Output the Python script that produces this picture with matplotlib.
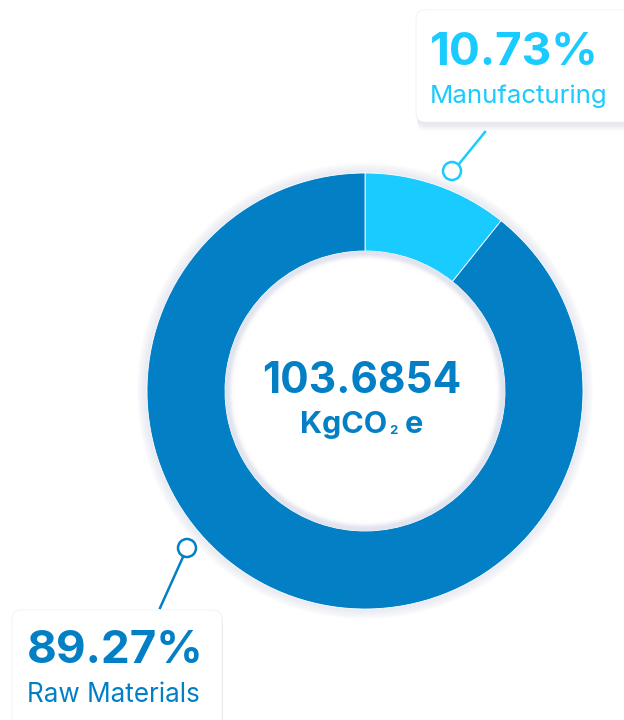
import matplotlib.pyplot as plt
from matplotlib.patches import Circle, FancyBboxPatch

plt.rcParams['font.family'] = ['Inter', 'DejaVu Sans']

# dados do grafico
labels = ['Manufacturing', 'Raw Materials']
values = [10.73, 89.27]
colors = ['#1acbff', '#0380c5']
total_txt = '103.6854'
unit_parts = ['KgCO', '2', 'e']

W, H = 624, 720
cx, cy = 365, 329
r_out, r_in = 218, 140

fig = plt.figure(figsize=(W / 100, H / 100), dpi=100)
ax = fig.add_axes([0, 0, 1, 1])

# sombra externa suave
for k in range(10, 0, -1):
    ax.add_patch(Circle((cx, cy), r_out + k, color='#dfe1ee', alpha=0.08, lw=0, zorder=0))

ax.pie(values, colors=colors, startangle=90, counterclock=False,
       center=(cx, cy), radius=r_out,
       wedgeprops=dict(width=r_out - r_in, edgecolor='white', linewidth=0.6))

# anel interno lavanda e circulo branco
ax.add_patch(Circle((cx, cy), r_in, color='#e1e3ef', lw=0, zorder=3))
for k, a in zip(range(8, 0, -1), [0.1, 0.2, 0.3, 0.45, 0.6, 0.75, 0.9, 1.0]):
    ax.add_patch(Circle((cx, cy), r_in - 11 + k, color='white', alpha=a, lw=0, zorder=3))
ax.add_patch(Circle((cx, cy), r_in - 11, color='white', lw=0, zorder=3))

ax.text(cx - 3, 327, total_txt, color=colors[1], fontsize=30.5, fontweight='bold',
        ha='center', va='baseline', zorder=5)
# KgCO2e com subscrito pequeno
ax.text(387, 287, unit_parts[0], color=colors[1], fontsize=22, fontweight='bold',
        ha='right', va='baseline', zorder=5)
ax.text(389, 286, unit_parts[1], color=colors[1], fontsize=9.5, fontweight='bold',
        ha='left', va='baseline', zorder=5)
ax.text(405, 287, unit_parts[2], color=colors[1], fontsize=22, fontweight='bold',
        ha='left', va='baseline', zorder=5)


def caixa(x0, y0, w, h):
    for k in range(7, 0, -1):
        ax.add_patch(FancyBboxPatch((x0 + 1, y0 - k * 1.3), w, h,
                                    boxstyle='round,pad=0,rounding_size=9',
                                    fc='#8a90a8', ec='none', alpha=0.03, zorder=6))
    ax.add_patch(FancyBboxPatch((x0, y0), w, h, boxstyle='round,pad=0,rounding_size=9',
                                fc='white', ec='#f0f1f6', lw=0.6, zorder=7))


# Manufacturing
caixa(416, 598, 230, 112)
ax.text(430, 655, f'{values[0]:.2f}%', color=colors[0], fontsize=33, fontweight='bold',
        va='baseline', zorder=8)
ax.text(430, 617, labels[0], color=colors[0], fontsize=18.6, va='baseline', zorder=8)
ax.plot([459, 485], [556, 588], color=colors[0], lw=1.8, zorder=4)
ax.add_patch(Circle((452, 549), 9, fc='white', ec=colors[0], lw=1.8, zorder=4))

# Raw Materials
caixa(12, -20, 210, 130)
ax.text(27, 57, f'{values[1]:.2f}%', color=colors[1], fontsize=33, fontweight='bold',
        va='baseline', zorder=8)
ax.text(27, 18, labels[1], color=colors[1], fontsize=18.8, va='baseline', zorder=8)
ax.plot([183, 160], [163, 112], color=colors[1], lw=1.8, zorder=4)
ax.add_patch(Circle((187, 172), 9, fc='white', ec=colors[1], lw=1.8, zorder=4))

ax.set_xlim(0, W)
ax.set_ylim(0, H)
ax.set_aspect('equal')
ax.axis('off')

fig.savefig('out.png', dpi=100)
